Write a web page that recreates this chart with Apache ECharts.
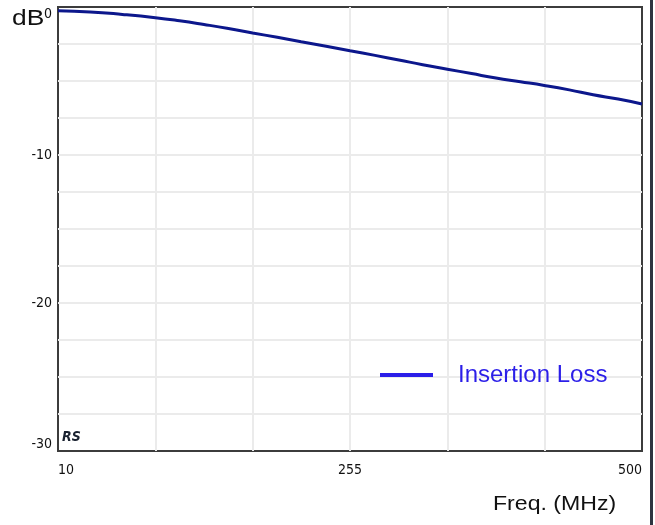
<!DOCTYPE html>
<html>
<head>
<meta charset="utf-8">
<script src="https://cdn.jsdelivr.net/npm/echarts@6/dist/echarts.min.js"></script>
<style>
html,body{margin:0;padding:0;background:#fff;}
#chart{width:655px;height:525px;}
</style>
</head>
<body>
<div id="chart"></div>
<script>
// Frequency (MHz) and insertion loss (dB)
const freqMHz = [10, 37, 64, 91.7, 112, 132.5, 153, 173.3, 194, 214, 235, 255, 276, 296, 316, 336.7, 357, 377.5, 398, 418, 439, 459, 480, 500];
const lossDb  = [-0.25, -0.33, -0.5, -0.72, -0.93, -1.18, -1.45, -1.75, -2.05, -2.35, -2.65, -2.95, -3.27, -3.58, -3.9, -4.2, -4.5, -4.8, -5.05, -5.3, -5.6, -5.93, -6.22, -6.55];
const xTickLabels = [10, 255, 500];
const yTickLabels = [0, -10, -20, -30];
const seriesName = 'Insertion Loss';

const X0 = 10, X1 = 500;           // axis start/end
const xStep = (X1 - X0) / 6;       // gridline spacing

const chart = echarts.init(document.getElementById('chart'));
const labelFont = "'DejaVu Sans Condensed', sans-serif";
const sansFont = "'Liberation Sans', Arial, sans-serif";

chart.setOption({
  animation: false,
  backgroundColor: '#fff',
  grid: {left: 58, right: 13, top: 7, bottom: 74, show: true, borderColor: '#3c3c3c', borderWidth: 2, backgroundColor: '#fff'},
  legend: {
    left: 375, top: 358,
    data: [{name: seriesName, icon: 'rect', itemStyle: {color: '#2b1ee8', borderWidth: 0}}],
    itemWidth: 53, itemHeight: 4,
    textStyle: {color: '#2b1ee8', fontSize: 24, fontFamily: sansFont, padding: [0, 0, 0, 20]}
  },
  xAxis: {
    type: 'value', min: 0, max: X1 - X0, interval: xStep,
    axisLine: {show: false}, axisTick: {show: false},
    splitLine: {show: true, showMinLine: false, showMaxLine: false, lineStyle: {color: '#ebebeb', width: 2}},
    axisLabel: {
      margin: 12, color: '#111', fontSize: 14, fontFamily: labelFont,
      alignMinLabel: 'left', alignMaxLabel: 'right',
      formatter: function (v) {
        const f = Math.round(v + X0);
        return xTickLabels.indexOf(f) >= 0 ? String(f) : '';
      }
    }
  },
  yAxis: {
    type: 'value', min: -30, max: 0, interval: 2.5,
    axisLine: {show: false}, axisTick: {show: false},
    splitLine: {show: true, showMinLine: false, showMaxLine: false, lineStyle: {color: '#ebebeb', width: 2}},
    axisLabel: {
      margin: 6, color: '#111', fontSize: 14, fontFamily: labelFont,
      verticalAlignMinLabel: 'bottom', verticalAlignMaxLabel: 'top',
      formatter: function (v) {
        const r = Math.round(v * 10) / 10;
        return yTickLabels.indexOf(r) >= 0 ? String(r) : '';
      }
    }
  },
  series: [{
    name: seriesName, type: 'line', showSymbol: false, smooth: true,
    lineStyle: {color: '#0c178c', width: 3},
    itemStyle: {color: '#0c178c'},
    data: freqMHz.map((f, i) => [f - X0, lossDb[i]])
  }],
  graphic: [
    {type: 'text', x: 12, y: 8, scaleX: 1.2, style: {text: 'dB', x: 0, y: 0, verticalAlign: 'top', fontSize: 22, fill: '#111', fontFamily: sansFont}},
    {type: 'text', x: 62, y: 430, style: {text: 'RS', x: 0, y: 0, verticalAlign: 'top', fontSize: 14, fontStyle: 'italic', fontWeight: 'bold', fill: '#1a2230', fontFamily: labelFont}},
    {type: 'text', x: 493, y: 494, scaleX: 1.1, style: {text: 'Freq. (MHz)', x: 0, y: 0, verticalAlign: 'top', fontSize: 21, fill: '#111', fontFamily: sansFont}},
    {type: 'rect', x: 650, y: 0, shape: {width: 3, height: 525}, style: {fill: '#2e3440'}}
  ]
});
</script>
</body>
</html>
